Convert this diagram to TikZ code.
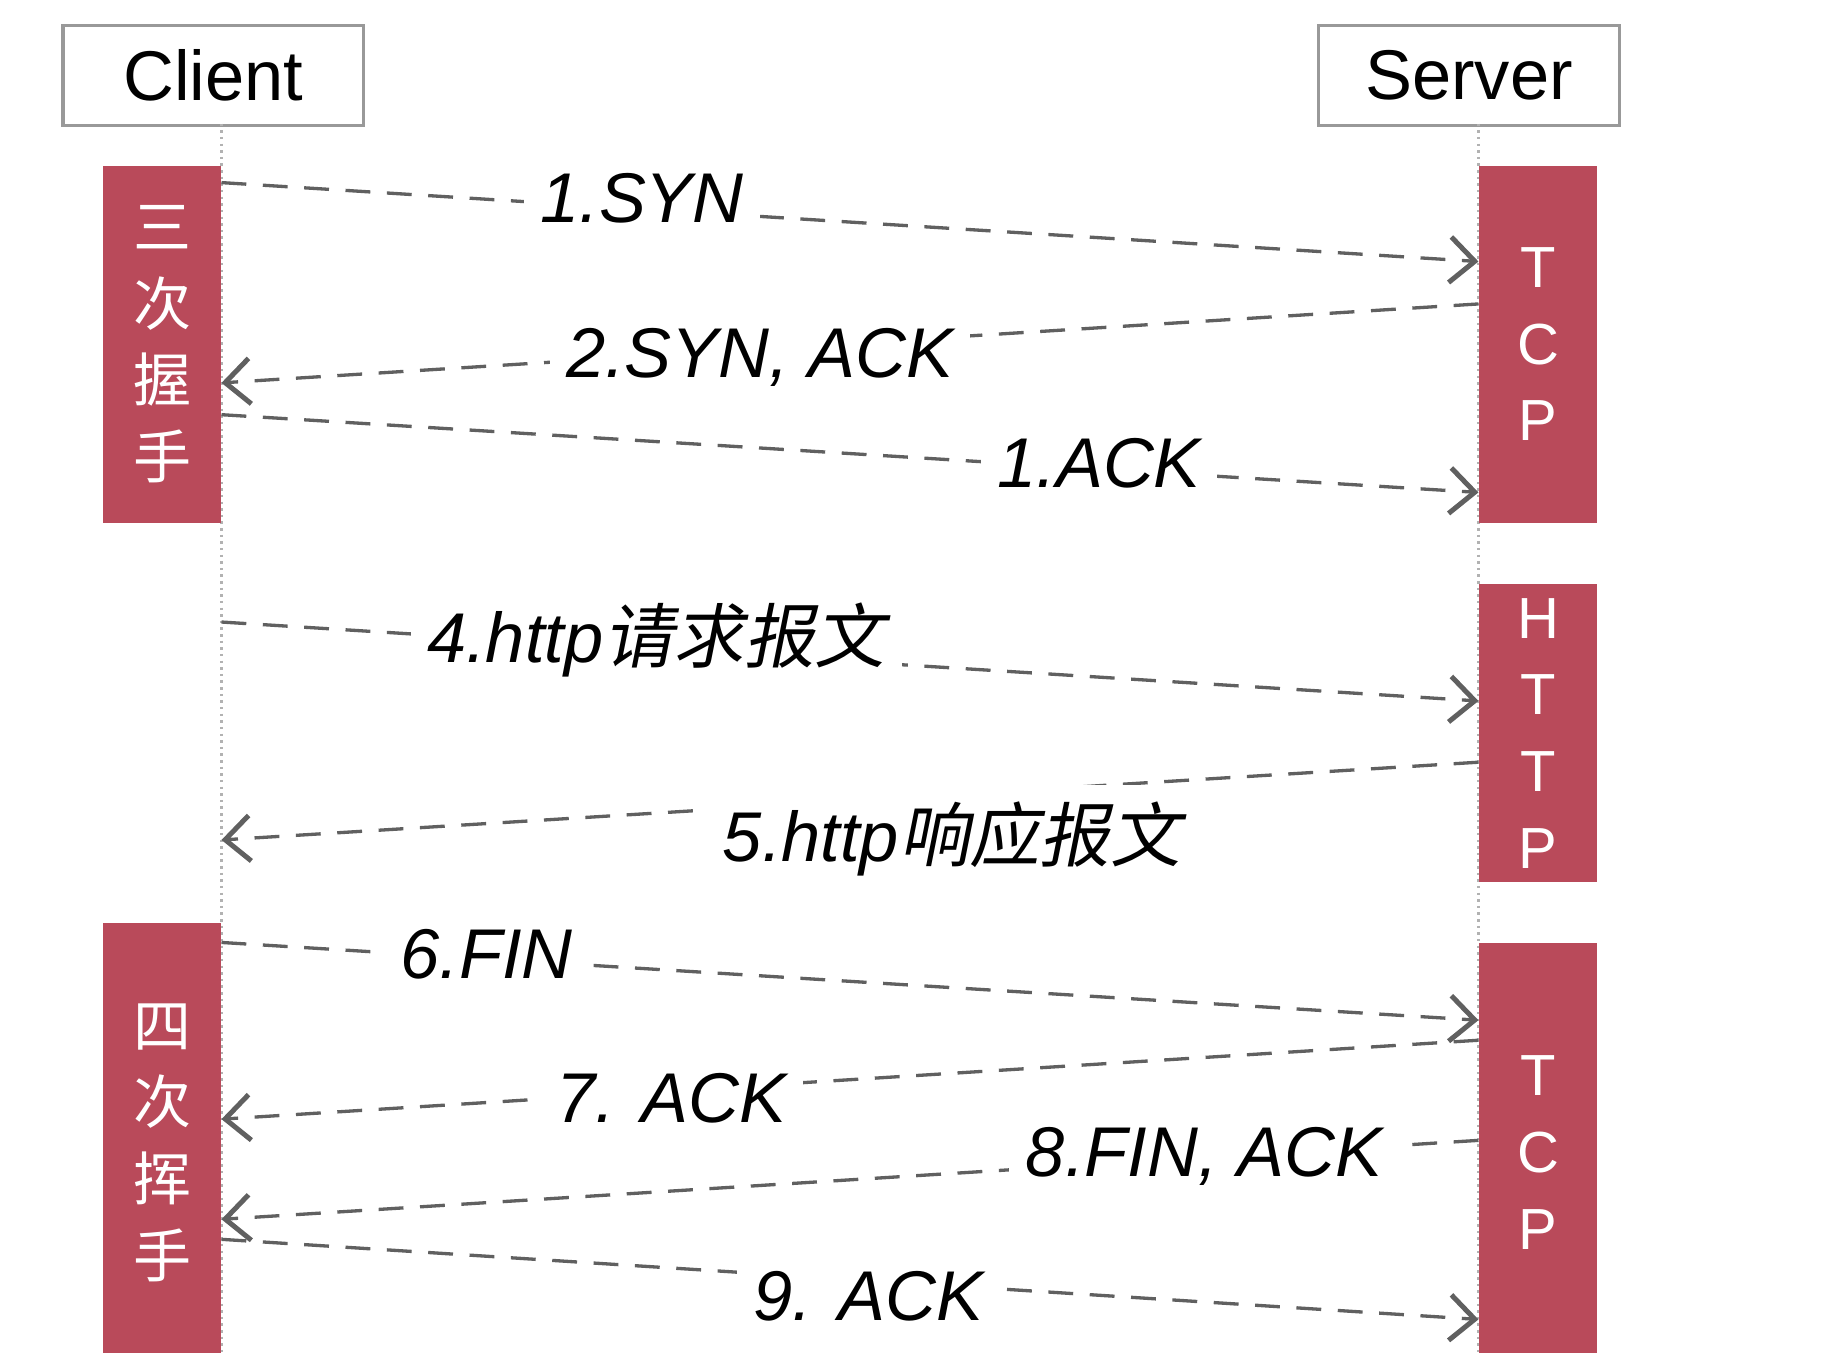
\documentclass[tikz,border=0pt]{standalone}
\usepackage{fontspec}
\setmainfont{Liberation Sans}
\newfontfamily\cjk{Noto Sans CJK SC}
\newfontfamily\cjkit[FakeSlant=0.2]{Noto Sans CJK SC}
\usetikzlibrary{arrows.meta}
\definecolor{myred}{HTML}{B94A5A}
\definecolor{lgray}{HTML}{606060}
\begin{document}
\begin{tikzpicture}[x=0.01cm,y=-0.01cm,
  hdr/.style={draw=gray!80,line width=0.8pt,minimum width=2.55cm,minimum height=0.85cm,anchor=north west,inner sep=0pt,font=\fontsize{17}{17}\selectfont},
  bar/.style={fill=myred,anchor=north west,minimum width=1.0cm,inner sep=0pt},
  vtxt/.style={text=white,align=center,font=\fontsize{14}{18.5}\selectfont},
  life/.style={gray!60,densely dotted,line width=0.6pt},
  msg/.style={lgray,dashed,dash pattern=on 6pt off 4pt,line width=0.8pt,-{Straight Barb[length=6pt,width=11pt,line width=1.2pt]}},
  lab/.style={fill=white,inner sep=4pt,font=\fontsize{17}{17}\selectfont\itshape}]
\useasboundingbox (0,0) rectangle (1550,1148);
\node[hdr] (client) at (52,20) {Client};
\node[hdr] (server) at (1118,20) {Server};
\coordinate (cl0) at (188,105); \coordinate (cl1) at (188,1155);
\coordinate (sl0) at (1255,105); \coordinate (sl1) at (1255,1155);
\draw[life] (cl0) -- (cl1);
\draw[life] (sl0) -- (sl1);
\node[bar,minimum height=3.03cm] (b1) at (87,140) {};
\node[vtxt] (t1) at (b1.center) {\cjk 三\\\cjk 次\\\cjk 握\\\cjk 手};
\node[bar,minimum height=3.72cm] (b2) at (87,783) {};
\node[vtxt] (t2) at (b2.center) {\cjk 四\\\cjk 次\\\cjk 挥\\\cjk 手};
\node[bar,minimum height=3.03cm] (b3) at (1255,140) {};
\node[vtxt] (t3) at (b3.center) {T\\C\\P};
\node[bar,minimum height=2.53cm] (b4) at (1255,495) {};
\node[vtxt] (t4) at (b4.center) {H\\T\\T\\P};
\node[bar,minimum height=3.55cm] (b5) at (1255,800) {};
\node[vtxt] (t5) at (b5.center) {T\\C\\P};
% messages
\coordinate (a1) at (188,155); \coordinate (a1e) at (1255,222);
\coordinate (a2) at (1255,258); \coordinate (a2e) at (188,325);
\coordinate (a3) at (188,352); \coordinate (a3e) at (1255,418);
\coordinate (a4) at (188,528); \coordinate (a4e) at (1255,595);
\coordinate (a5) at (1255,647); \coordinate (a5e) at (188,713);
\coordinate (a6) at (188,800); \coordinate (a6e) at (1255,866);
\coordinate (a7) at (1255,883); \coordinate (a7e) at (188,950);
\coordinate (a8) at (1255,968); \coordinate (a8e) at (188,1035);
\coordinate (a9) at (188,1052); \coordinate (a9e) at (1255,1120);
\foreach \i in {1,...,9}{\draw[msg] (a\i) -- (a\i e);}
\node[lab] (l1) at (545,168) {1.SYN};
\node[lab] (l2) at (645,303) {2.SYN, ACK};
\node[lab] (l3) at (933,393) {1.ACK};
\node[lab] (l4) at (557,543) {4.http{\cjkit 请求报文}};
\node[lab] (l5) at (808,712) {5.http{\cjkit 响应报文}};
\node[lab] (l6) at (413,810) {6.FIN};
\node[lab] (l7) at (570,932) {7. ACK};
\node[lab] (l8) at (1022,982) {8.FIN, ACK};
\node[lab] (l9) at (737,1100) {9. ACK};
\end{tikzpicture}
\end{document}
